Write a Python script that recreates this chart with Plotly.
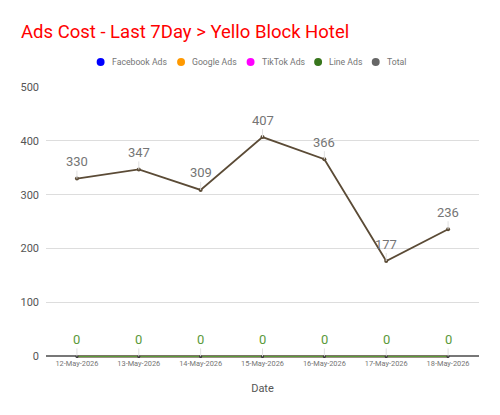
import plotly.graph_objects as go

dates = ["12-May-2026", "13-May-2026", "14-May-2026", "15-May-2026",
         "16-May-2026", "17-May-2026", "18-May-2026"]
facebook_ads = [0, 0, 0, 0, 0, 0, 0]
google_ads = [0, 0, 0, 0, 0, 0, 0]
tiktok_ads = [0, 0, 0, 0, 0, 0, 0]
line_ads = [0, 0, 0, 0, 0, 0, 0]
total = [330, 347, 309, 407, 366, 177, 236]

series_names = ["Facebook Ads", "Google Ads", "TikTok Ads", "Line Ads", "Total"]
series_colors = ["#0000ff", "#ff9900", "#ff00ff", "#38761d", "#666666"]

FONT = "Roboto"
OFF = 8                      # page body margin in the browser
FW, FH = 500 - OFF, 415 - OFF
PL, PR, PT, PB = 43, 479, 87, 358   # plot area in window pixels


def px(x):
    return (x - PL) / (PR - PL)


def py(y):
    return (PB - y) / (PB - PT)


fig = go.Figure()

for vals, col in [(facebook_ads, "#0000ff"), (google_ads, "#ff9900"),
                  (tiktok_ads, "#ff00ff")]:
    fig.add_trace(go.Scatter(x=dates, y=vals, mode="lines", showlegend=False,
                             line=dict(color=col, width=1.5), hoverinfo="skip"))
fig.add_trace(go.Scatter(x=dates, y=line_ads, mode="lines+markers", showlegend=False,
                         line=dict(color="#5a9a3a", width=2),
                         marker=dict(size=3, color="#333333"), cliponaxis=False))
fig.add_trace(go.Scatter(x=dates, y=total, mode="lines+markers", showlegend=False,
                         line=dict(color="#5b4b36", width=1.8),
                         marker=dict(size=4, color="#5b4b36")))

for d, v in zip(dates, total):
    fig.add_annotation(x=d, y=v, text=str(v), showarrow=True, arrowhead=0,
                       arrowwidth=1, arrowcolor="#e0e0e0", ax=0, ay=-17,
                       standoff=0, font=dict(family=FONT, size=13, color="#757575"))
for d, v in zip(dates, line_ads):
    fig.add_annotation(x=d, y=v, text=str(v), showarrow=True, arrowhead=0,
                       arrowwidth=1, arrowcolor="#e0e0e0", ax=0, ay=-17,
                       standoff=0, font=dict(family=FONT, size=13, color="#5b9a3a"))

# manual legend
legend_cx = [98, 179, 249, 317, 375]
LY = 62
r = 4
for cx, name, col in zip(legend_cx, series_names, series_colors):
    fig.add_shape(type="circle", xref="paper", yref="paper",
                  x0=px(cx - r), x1=px(cx + r), y0=py(LY + r), y1=py(LY - r),
                  fillcolor=col, line=dict(width=0))
    fig.add_annotation(xref="paper", yref="paper", x=px(cx + 10), y=py(LY),
                       xanchor="left", yanchor="middle", text=name, showarrow=False,
                       borderpad=0, font=dict(family=FONT, size=8.7, color="#757575"))

fig.update_layout(
    width=FW, height=FH,
    margin=dict(l=PL - OFF, r=FW - (PR - OFF), t=PT - OFF, b=FH - (PB - OFF)),
    paper_bgcolor="white", plot_bgcolor="white",
    font=dict(family=FONT),
    title=dict(text="Ads Cost - Last 7Day > Yello Block Hotel",
               font=dict(family=FONT, size=18.5, color="#ff0000"),
               x=(21 - OFF) / FW, xanchor="left", xref="container",
               y=1 - (32 - OFF) / FH, yanchor="middle", pad=dict(l=0, r=0, t=0, b=0)),
    showlegend=False,
    xaxis=dict(type="category", showgrid=False, zeroline=False, showline=False,
               ticks="", tickfont=dict(family=FONT, size=7.4, color="#757575"),
               title=dict(text="Date", font=dict(family=FONT, size=11, color="#555555"),
                          standoff=16),
               range=[-0.5, 6.5]),
    yaxis=dict(range=[-3, 500], tickvals=[0, 100, 200, 300, 400, 500],
               showgrid=True, gridcolor="#dddddd", gridwidth=1,
               zeroline=True, zerolinecolor="#777777", zerolinewidth=2,
               tickfont=dict(family=FONT, size=11, color="#555555"),
               ticks="", ticklabelstandoff=6),
)

fig.write_html("out.html")
